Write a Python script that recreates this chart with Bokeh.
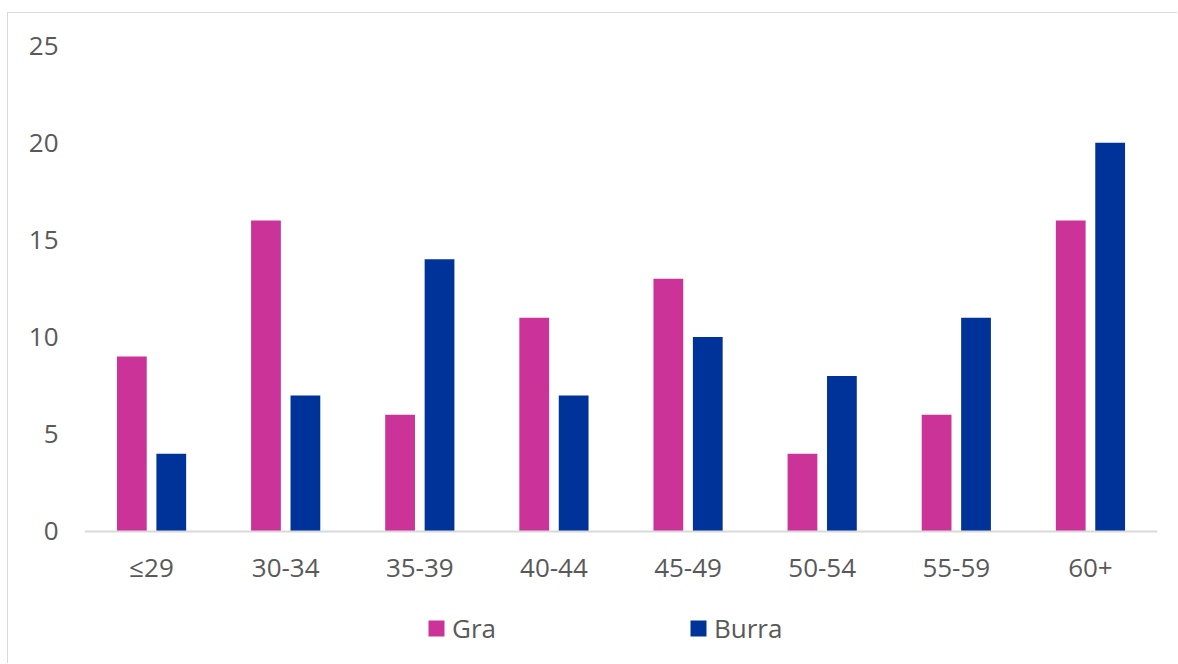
from bokeh.plotting import figure
from bokeh.models import FactorRange, Range1d, Legend, LegendItem, FixedTicker, ColumnDataSource
from bokeh.transform import dodge
from bokeh.embed import file_html
from bokeh.resources import INLINE

categories = ["≤29", "30-34", "35-39", "40-44", "45-49", "50-54", "55-59", "60+"]
gra = [9, 16, 6, 11, 13, 4, 6, 16]
burra = [4, 7, 14, 7, 10, 8, 11, 20]
y_ticks = [0, 5, 10, 15, 20, 25]

GRA_COLOR = "#CC3399"
BURRA_COLOR = "#003399"
TEXT_COLOR = "#595959"
FONT = "Open Sans"
FS = "26px"

src = ColumnDataSource(dict(cat=categories, gra=gra, burra=burra))

# frame extends below the x axis so the legend (drawn in the frame) is visible;
# the x axis is pinned at y = 0
p = figure(
    width=1170, height=651,
    x_range=FactorRange(*categories, range_padding=0),
    y_range=Range1d(-6.842, 25),
    output_backend="svg", toolbar_location=None,
    min_border_left=76, min_border_right=21, min_border_top=32, min_border_bottom=0,
)
p.styles = {"margin-left": "7px", "margin-top": "12px",
            "border-left": "1px solid #d9d9d9", "border-top": "1px solid #d9d9d9"}
p.outline_line_color = None
p.xgrid.grid_line_color = None
p.ygrid.grid_line_color = None
p.background_fill_color = "white"
p.border_fill_color = "white"

r_gra = p.vbar(x=dodge("cat", -0.147, range=p.x_range), top="gra", width=0.222,
               source=src, fill_color=GRA_COLOR, line_color=None)
r_burra = p.vbar(x=dodge("cat", 0.147, range=p.x_range), top="burra", width=0.222,
                 source=src, fill_color=BURRA_COLOR, line_color=None)

# y axis
p.yaxis.ticker = FixedTicker(ticks=y_ticks)
p.yaxis.axis_line_color = None
p.yaxis.major_tick_line_color = None
p.yaxis.minor_tick_line_color = None
p.yaxis.major_label_standoff = 20
p.yaxis.major_label_text_font = FONT
p.yaxis.major_label_text_font_size = FS
p.yaxis.major_label_text_color = TEXT_COLOR

# x axis
p.xaxis.fixed_location = 0
p.xaxis.axis_line_color = "#d9d9d9"
p.xaxis.axis_line_width = 2
p.xaxis.major_tick_line_color = None
p.xaxis.minor_tick_line_color = None
p.xaxis.major_label_standoff = 12
p.xaxis.major_label_text_font = FONT
p.xaxis.major_label_text_font_size = FS
p.xaxis.major_label_text_color = TEXT_COLOR


def make_legend(label, renderer, loc):
    lg = Legend(items=[LegendItem(label=label, renderers=[renderer])],
                location=loc, orientation="horizontal",
                padding=0, margin=0, spacing=0,
                glyph_width=20, glyph_height=20, label_height=20,
                label_standoff=6, border_line_color=None,
                background_fill_alpha=0,
                label_text_font=FONT, label_text_font_size=FS,
                label_text_color=TEXT_COLOR)
    p.add_layout(lg, "center")


make_legend("Gra", r_gra, (342, 18))
make_legend("Burra", r_burra, (604, 18))

open("out.html", "w").write(file_html(p, INLINE))
